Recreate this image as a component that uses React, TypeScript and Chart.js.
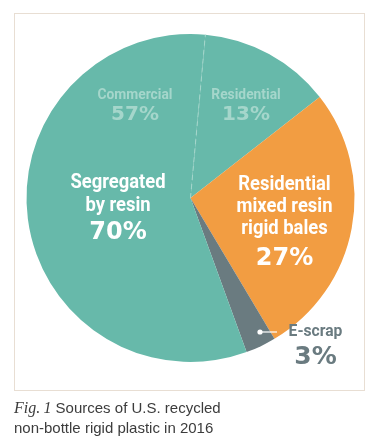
import React, { useEffect, useRef } from "react";
import { Chart, registerables } from "chart.js";

Chart.register(...registerables);

// Slices, clockwise from the dashed split line
const categories = ["Residential", "Residential mixed resin rigid bales", "E-scrap", "Commercial"];
const values = [13, 27, 3, 57];
const sliceColors = ["#67b9aa", "#f29d42", "#6a7b80", "#67b9aa"];
// Group "Segregated by resin" = Residential + Commercial
const groupName = ["Segregated", "by resin"];
const groupValue = 70;
const orangeLabel = ["Residential", "mixed resin", "rigid bales"];

const COND = '"Roboto", "Liberation Sans", sans-serif';
const WIDE = '"DejaVu Sans", "Verdana", sans-serif';

function txt(ctx: CanvasRenderingContext2D, s: string, x: number, y: number, font: string, color: string, sx = 1, align: CanvasTextAlign = "center") {
  ctx.save();
  ctx.translate(x, y);
  ctx.scale(sx, 1);
  ctx.font = font;
  ctx.fillStyle = color;
  ctx.textAlign = align;
  ctx.textBaseline = "middle";
  ctx.fillText(s, 0, 0);
  ctx.restore();
}

const labelPlugin = {
  id: "labels",
  afterDatasetsDraw(chart: any) {
    const ctx: CanvasRenderingContext2D = chart.ctx;
    const meta = chart.getDatasetMeta(0);
    const arcs = meta.data;
    const a0 = arcs[0];
    const cx = a0.x, cy = a0.y, r = a0.outerRadius;
    const k = r / 164;
    // dashed split line at start of "Residential" slice
    const ang = a0.startAngle;
    ctx.save();
    ctx.strokeStyle = "#a5d6cb";
    ctx.lineWidth = 1;
    ctx.setLineDash([5, 4]);
    ctx.beginPath();
    ctx.moveTo(cx, cy);
    ctx.lineTo(cx + Math.cos(ang) * r, cy + Math.sin(ang) * r);
    ctx.stroke();
    ctx.restore();

    const light = "#a5d6cb";
    const sxC = 0.92;
    // Commercial (top left)
    txt(ctx, categories[3], cx - 55.5 * k, cy - 103 * k, `bold 15px ${COND}`, light, sxC);
    txt(ctx, values[3] + "%", cx - 55.5 * k, cy - 83 * k, `bold 20px ${WIDE}`, light);
    // Residential (top right)
    txt(ctx, categories[0], cx + 55.5 * k, cy - 103 * k, `bold 15px ${COND}`, light, sxC);
    txt(ctx, values[0] + "%", cx + 55.5 * k, cy - 83 * k, `bold 20px ${WIDE}`, light);
    // Segregated by resin
    const gx = cx - 72.5 * k;
    txt(ctx, groupName[0], gx, cy - 15 * k, `bold 20px ${COND}`, "#ffffff", sxC);
    txt(ctx, groupName[1], gx, cy + 8 * k, `bold 20px ${COND}`, "#ffffff", sxC);
    txt(ctx, groupValue + "%", gx, cy + 35 * k, `bold 24px ${WIDE}`, "#ffffff");
    // Orange
    const ox = cx + 94 * k;
    txt(ctx, orangeLabel[0], ox, cy - 13 * k, `bold 20px ${COND}`, "#ffffff", sxC);
    txt(ctx, orangeLabel[1], ox, cy + 9 * k, `bold 20px ${COND}`, "#ffffff", sxC);
    txt(ctx, orangeLabel[2], ox, cy + 31 * k, `bold 20px ${COND}`, "#ffffff", sxC);
    txt(ctx, values[1] + "%", ox, cy + 61 * k, `bold 24px ${WIDE}`, "#ffffff");
    // E-scrap leader
    const dx = cx + 69.5 * k, dy = cy + 134 * k;
    ctx.save();
    ctx.strokeStyle = "#ffffff";
    ctx.lineWidth = 1.2;
    ctx.beginPath();
    ctx.moveTo(dx, dy);
    ctx.lineTo(dx + 17 * k, dy);
    ctx.stroke();
    ctx.fillStyle = "#ffffff";
    ctx.beginPath();
    ctx.arc(dx, dy, 2.6, 0, Math.PI * 2);
    ctx.fill();
    ctx.restore();
    txt(ctx, categories[2], cx + 125 * k, cy + 134 * k, `bold 17px ${COND}`, "#6a7b80", sxC);
    txt(ctx, values[2] + "%", cx + 125 * k, cy + 159 * k, `bold 25px ${WIDE}`, "#6a7b80");
  },
};

export default function App() {
  const ref = useRef<HTMLCanvasElement>(null);
  useEffect(() => {
    document.body.style.margin = "0";
    const chart = new Chart(ref.current!, {
      type: "pie",
      data: {
        labels: categories,
        datasets: [{ data: values, backgroundColor: sliceColors, borderWidth: 0 }],
      },
      options: {
        responsive: false,
        animation: false,
        rotation: 5.2,
        layout: { padding: { left: 26, right: 26, top: 34, bottom: 81 } },
        plugins: { legend: { display: false }, tooltip: { enabled: false } },
      },
      plugins: [labelPlugin],
    });
    return () => chart.destroy();
  }, []);
  return (
    <div style={{ position: "relative", width: 381, height: 443, background: "#fff" }}>
      <div style={{ position: "absolute", left: 14, top: 13, width: 351, height: 378, border: "1.5px solid #e8ded3", boxSizing: "border-box" }} />
      <canvas ref={ref} width={381} height={443} style={{ position: "absolute", left: 0, top: 0 }} />
      <div style={{ position: "absolute", left: 14, top: 398, fontFamily: '"Liberation Sans", Arial, sans-serif', fontSize: 15, lineHeight: "20px", color: "#3c3c3c" }}>
        <span style={{ fontFamily: '"Liberation Serif", serif', fontStyle: "italic", fontSize: 16 }}>Fig.&thinsp;1</span> Sources of U.S. recycled
        <br />non-bottle rigid plastic in 2016
      </div>
    </div>
  );
}
